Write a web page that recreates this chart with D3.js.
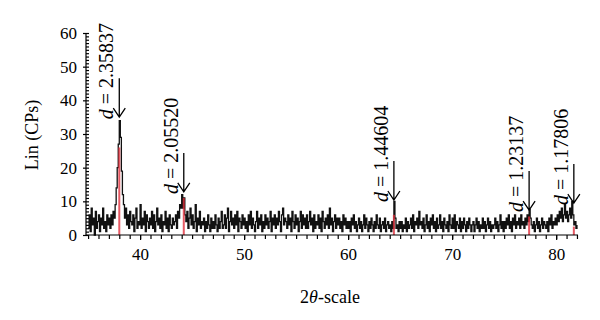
<!DOCTYPE html>
<html>
<head>
<meta charset="utf-8">
<script src="https://cdn.jsdelivr.net/npm/d3@7/dist/d3.min.js"></script>
<style>
  body { margin: 0; background: #fff; }
  svg { display: block; }
  .axis path, .axis line { stroke: #000; stroke-width: 1.2; }
</style>
</head>
<body>
<svg id="chart" width="600" height="320"></svg>
<script>
// scan start and step (degrees 2theta)
const scanStart = 35.0;
const scanStep = 0.1;

// intensity, one row per degree (35.0 .. 35.9, 36.0 .. 36.9, ...)
const intensity = [
  2,6,1,8,3,5,0,7,2,4,      // 35
  6,1,5,3,8,2,4,1,6,3,      // 36
  5,2,6,3,7,5,9,14,20,27,   // 37
  34,29,19,12,9,5,8,3,6,2,  // 38
  7,4,3,6,1,5,8,2,4,3,      // 39
  9,2,5,3,7,1,6,4,2,5,      // 40
  3,7,2,6,1,4,8,3,5,2,      // 41
  6,1,4,3,7,2,5,1,6,3,      // 42
  2,5,3,4,6,2,7,5,9,8,      // 43
  12,8,11,6,4,7,2,5,8,3,    // 44
  6,2,4,9,1,5,3,7,2,4,      // 45
  3,5,1,4,2,6,3,1,5,2,      // 46
  4,2,6,3,1,5,2,4,7,2,      // 47
  3,6,2,5,8,1,4,7,3,5,      // 48
  2,6,3,7,1,5,4,2,6,3,      // 49
  5,2,4,1,6,3,7,2,5,3,      // 50
  1,4,7,2,5,3,6,1,4,2,      // 51
  6,3,5,2,4,7,1,5,3,6,      // 52
  2,5,3,7,4,1,6,8,3,5,      // 53
  4,2,6,3,5,1,7,4,2,6,      // 54
  3,5,1,4,7,2,6,3,5,2,      // 55
  6,2,4,7,3,5,1,6,2,4,      // 56
  3,6,2,5,1,7,4,2,5,3,      // 57
  6,2,8,3,5,1,4,6,2,5,      // 58
  3,5,2,4,1,6,3,5,2,4,      // 59
  2,4,1,5,3,6,2,4,1,3,      // 60
  5,2,4,1,3,6,2,5,3,1,      // 61
  4,2,5,3,1,4,2,6,3,2,      // 62
  5,1,3,4,2,5,1,3,4,2,      // 63
  3,1,4,2,10,5,2,3,1,4,     // 64
  2,4,1,3,2,5,1,4,2,3,      // 65
  5,2,6,1,4,3,5,2,7,3,      // 66
  4,2,5,1,3,6,2,4,1,5,      // 67
  3,6,2,4,1,5,2,3,6,2,      // 68
  4,1,5,3,2,4,1,6,3,2,      // 69
  5,2,6,1,4,3,2,5,1,4,      // 70
  2,5,3,1,4,2,5,3,1,3,      // 71
  4,1,3,5,2,4,1,3,2,5,      // 72
  2,4,1,3,5,2,4,1,3,2,      // 73
  3,5,2,4,1,3,6,2,4,1,      // 74
  4,2,5,3,6,2,4,1,5,3,      // 75
  6,2,4,3,5,2,6,3,4,2,      // 76
  5,3,6,4,7.5,5,3,2,4,1,    // 77
  3,5,2,4,1,3,5,2,4,3,      // 78
  2,4,1,5,3,6,2,4,3,5,      // 79
  3,6,4,7,5,8,4,6,9,5,      // 80
  7,4,6,8,5,10,6,3,4,2,     // 81
  3                          // 82
];

// indexed reflections
const peakTheta = [38.0, 44.2, 64.4, 77.4, 81.7];
const peakTop = [35, 12.8, 10.4, 7.4, 9.5];
const refHeight = [26, 11, 6, 5.5, 2.5];
const dLabels = ["2.35837", "2.05520", "1.44604", "1.23137", "1.17806"];

const xTicks = [40, 50, 60, 70, 80];
const yTicks = [0, 10, 20, 30, 40, 50, 60];

const serif = "Liberation Serif, DejaVu Serif, serif";
const data = intensity.map((v, i) => ({ t: scanStart + i * scanStep, v: v }));

const svg = d3.select("#chart");
const mLeft = 86, mRight = 578, mTop = 33, mBottom = 235;

const x = d3.scaleLinear().domain([34.8, 82.1]).range([mLeft, mRight]);
const y = d3.scaleLinear().domain([0, 60]).range([mBottom, mTop]);

// pattern
const line = d3.line().x(d => x(d.t)).y(d => y(d.v)).curve(d3.curveStepAfter);
svg.append("path")
  .datum(data)
  .attr("fill", "none")
  .attr("stroke", "#111")
  .attr("stroke-width", 1.3)
  .attr("d", line);

// reference lines
svg.append("g").selectAll("line")
  .data(peakTheta)
  .join("line")
  .attr("x1", d => x(d)).attr("x2", d => x(d))
  .attr("y1", y(0)).attr("y2", (d, i) => y(refHeight[i]))
  .attr("stroke", "#e0303c")
  .attr("stroke-opacity", 0.8)
  .attr("stroke-width", 2);

// x axis: minor ticks every degree, labels every 10
svg.append("g")
  .attr("class", "axis")
  .attr("transform", `translate(0,${mBottom})`)
  .call(d3.axisBottom(x).tickValues(d3.range(35, 83)).tickSize(4).tickFormat(""))
  .call(g => g.select(".domain").attr("d", `M${mLeft},0H${mRight}`));

svg.append("g")
  .attr("class", "axis")
  .attr("transform", `translate(0,${mBottom})`)
  .call(d3.axisBottom(x).tickValues(xTicks).tickSize(5).tickPadding(8))
  .call(g => g.select(".domain").remove())
  .call(g => g.attr("font-family", serif).attr("font-size", 17))
  .call(g => g.selectAll("text").attr("fill", "#000"));

// y axis: minor ticks inside, labels on the left
svg.append("g")
  .attr("class", "axis")
  .attr("transform", `translate(${mLeft},0)`)
  .call(d3.axisRight(y).tickValues(d3.range(0, 61)).tickSize(3).tickFormat(""))
  .call(g => g.select(".domain").attr("d", `M0,${mBottom}V${mTop}`));

svg.append("g")
  .attr("class", "axis")
  .attr("transform", `translate(${mLeft},0)`)
  .call(d3.axisLeft(y).tickValues(yTicks).tickSize(3).tickPadding(6))
  .call(g => g.select(".domain").remove())
  .call(g => g.attr("font-family", serif).attr("font-size", 17))
  .call(g => g.selectAll("text").attr("fill", "#000"));

// arrows and d-spacing labels
const ann = svg.append("g").selectAll("g")
  .data(peakTheta)
  .join("g")
  .attr("transform", (d, i) => `translate(${x(d)},${y(peakTop[i])})`);

ann.append("path")
  .attr("d", "M0,-39V0M-6,-9L0,0L6,-9")
  .attr("fill", "none")
  .attr("stroke", "#000")
  .attr("stroke-width", 1.3);

const lbl = ann.append("text")
  .attr("transform", "translate(-6,2) rotate(-90)")
  .attr("font-family", serif)
  .attr("font-size", 20)
  .attr("fill", "#000");
lbl.append("tspan").attr("font-style", "italic").text("d");
lbl.append("tspan").text((d, i) => " = " + dLabels[i]);

// axis titles
svg.append("text")
  .attr("transform", "translate(38,135) rotate(-90)")
  .attr("text-anchor", "middle")
  .attr("font-family", serif)
  .attr("font-size", 18)
  .text("Lin (CPs)");

const xt = svg.append("text")
  .attr("x", 330).attr("y", 303)
  .attr("text-anchor", "middle")
  .attr("font-family", serif)
  .attr("font-size", 18);
xt.append("tspan").text("2");
xt.append("tspan").attr("font-style", "italic").text("θ");
xt.append("tspan").text("-scale");
</script>
</body>
</html>
